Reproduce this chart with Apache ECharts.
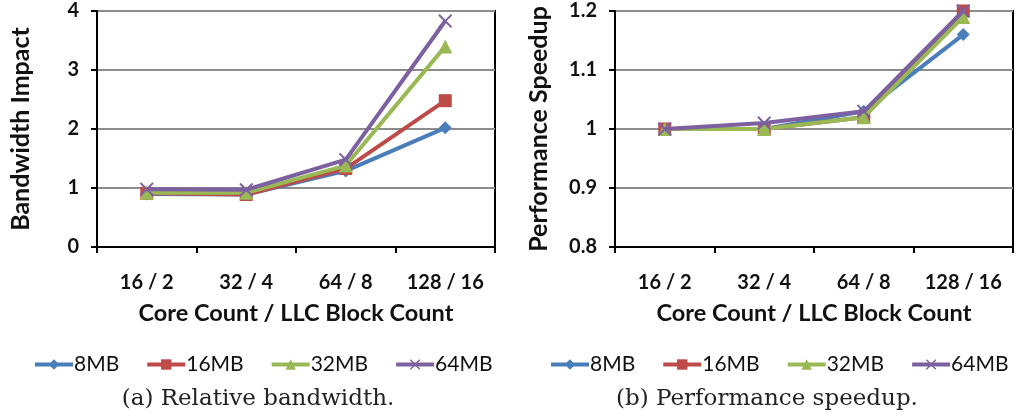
<!DOCTYPE html>
<html><head><meta charset="utf-8">
<script src="https://cdn.jsdelivr.net/npm/echarts@6/dist/echarts.min.js"></script>
<style>html,body{margin:0;padding:0;background:#fff}#c{width:1017px;height:419px}</style>
</head><body><div id="c"></div>
<script>
const categories = ['16 / 2', '32 / 4', '64 / 8', '128 / 16'];
const seriesNames = ['8MB', '16MB', '32MB', '64MB'];
const bw8 = [0.90, 0.89, 1.29, 2.02];
const bw16 = [0.91, 0.89, 1.33, 2.48];
const bw32 = [0.92, 0.92, 1.38, 3.40];
const bw64 = [0.98, 0.97, 1.48, 3.83];
const sp8 = [1.00, 1.00, 1.03, 1.16];
const sp16 = [1.00, 1.00, 1.02, 1.20];
const sp32 = [1.00, 1.00, 1.02, 1.19];
const sp64 = [1.00, 1.01, 1.03, 1.20];
const yTicksA = [0, 1, 2, 3, 4];
const yTicksB = [0.8, 0.9, 1.0, 1.1, 1.2];

const colors = ['#4A7EBB', '#BE4B48', '#98B954', '#7D60A0'];
const X = 'path://M0,1L1,0L5,4L9,0L10,1L6,5L10,9L9,10L5,6L1,10L0,9L4,5Z';
const symbols = ['diamond', 'rect', 'triangle', X];
const sizes = [13, 13, 14, 14];
const F = 'Lato, "Open Sans", sans-serif';

function mk(name, data, i, g) {
  return {
    name, type: 'line', data, xAxisIndex: g, yAxisIndex: g,
    symbol: symbols[i], symbolSize: sizes[i], showSymbol: true,
    lineStyle: {color: colors[i], width: 4},
    itemStyle: {color: colors[i]},
    emphasis: {disabled: true}, animation: false, z: 2 + i
  };
}
function xAx(g) {
  return {
    type: 'category', gridIndex: g, data: categories,
    axisLine: {lineStyle: {color: '#000', width: 2}},
    axisTick: {show: true, length: 6, lineStyle: {color: '#000', width: 2}},
    axisLabel: {interval: 0, fontFamily: F, fontWeight: 'bold', fontSize: 20, color: '#111', margin: 26},
    name: 'Core Count / LLC Block Count', nameLocation: 'middle', nameGap: 54,
    nameTextStyle: {fontFamily: F, fontWeight: 'bold', fontSize: 23.5, color: '#111'}
  };
}
function yAx(g, ticks, name, gap) {
  return {
    type: 'value', gridIndex: g, min: ticks[0], max: ticks[ticks.length - 1],
    interval: +(ticks[1] - ticks[0]).toFixed(2),
    axisLine: {show: true, lineStyle: {color: '#000', width: 2}},
    axisTick: {show: true, length: 6, lineStyle: {color: '#000', width: 2}},
    axisLabel: {fontFamily: F, fontWeight: 'bold', fontSize: 20, color: '#111', margin: 18},
    splitLine: {show: true, lineStyle: {color: '#8c8c8c', width: 2}},
    name, nameLocation: 'middle', nameRotate: 90, nameGap: gap,
    nameTextStyle: {fontFamily: F, fontWeight: 'bold', fontSize: 25, color: '#111'}
  };
}
function leg(left) {
  return {
    left, top: 349, width: 470, itemWidth: 38, itemHeight: 13, itemGap: 26,
    data: seriesNames.map(n => ({name: n})),
    lineStyle: {width: 4},
    textStyle: {fontFamily: F, fontSize: 21, color: '#111', padding: [0, 0, 0, -4]},
    selectedMode: false
  };
}
const chart = echarts.init(document.getElementById('c'), null, {renderer: 'canvas'});
const series = [];
[bw8, bw16, bw32, bw64].forEach((d, i) => series.push(mk(seriesNames[i], d, i, 0)));
[sp8, sp16, sp32, sp64].forEach((d, i) => series.push(mk(seriesNames[i], d, i, 1)));
chart.setOption({
  animation: false,
  grid: [
    {left: 97, right: 522, top: 11, bottom: 172, show: true, borderColor: '#000', borderWidth: 2},
    {left: 615, right: 4, top: 11, bottom: 172, show: true, borderColor: '#000', borderWidth: 2}
  ],
  xAxis: [xAx(0), xAx(1)],
  yAxis: [yAx(0, yTicksA, 'Bandwidth Impact', 64), yAx(1, yTicksB, 'Performance Speedup', 64)],
  legend: [leg(28), leg(544)],
  title: [
    {text: '(a) Relative bandwidth.', left: 253, top: 383, textAlign: 'center',
     textStyle: {fontFamily: '"DejaVu Serif", serif', fontWeight: 'normal', fontSize: 23, color: '#222'}},
    {text: '(b) Performance speedup.', left: 762, top: 383, textAlign: 'center',
     textStyle: {fontFamily: '"DejaVu Serif", serif', fontWeight: 'normal', fontSize: 23, color: '#222'}}
  ],
  series
});
</script></body></html>
